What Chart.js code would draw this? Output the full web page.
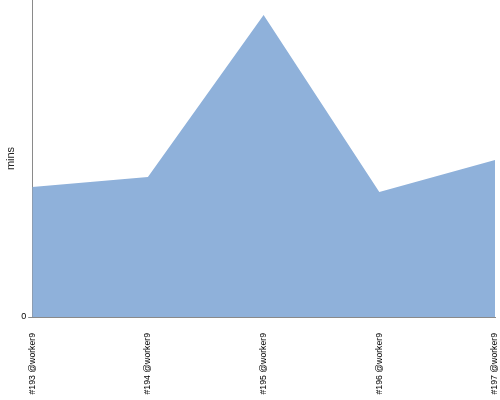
<!DOCTYPE html>
<html><head><meta charset="utf-8">
<script src="https://cdn.jsdelivr.net/npm/chart.js@4"></script>
<style>html,body{margin:0;padding:0;background:#fff}#w{width:500px;height:400px}</style>
</head><body><div id="w"><canvas id="c"></canvas></div>
<script>
const categories = ["#193 @worker9", "#194 @worker9", "#195 @worker9", "#196 @worker9", "#197 @worker9"];
const minutes = [41.0, 44.2, 95.3, 39.4, 49.5];
const yTickLabels = [0];
const yMax = 100;

new Chart(document.getElementById('c'), {
  type: 'line',
  data: { labels: categories, datasets: [{
    data: minutes, fill: 'origin', backgroundColor: '#8fb1da', borderColor: '#8fb1da',
    borderWidth: 0, pointRadius: 0, tension: 0 }] },
  options: {
    responsive: true, maintainAspectRatio: false, animation: false,
    layout: { padding: { top: 0, right: 5, bottom: 0, left: 2 } },
    plugins: { legend: { display: false }, tooltip: { enabled: false } },
    scales: {
      x: { offset: false,
        afterFit: (s) => { s.paddingLeft = 0; s.paddingRight = 0; s.height = 83; },
        grid: { display: false, drawTicks: false },
        border: { color: '#8a8a8a' },
        ticks: { maxRotation: 90, minRotation: 90, autoSkip: false, padding: 16,
          color: '#000', font: { family: 'Liberation Sans', size: 8.7 } } },
      y: { min: 0, max: yMax,
        afterBuildTicks: (s) => { s.ticks = yTickLabels.map(v => ({ value: v })); },
        afterFit: (s) => { s.paddingTop = 0; s.paddingBottom = 0; },
        grid: { drawOnChartArea: false, tickLength: 4, color: '#8a8a8a' },
        border: { color: '#8a8a8a' },
        ticks: { color: '#000', padding: 2, font: { family: 'Liberation Sans', size: 9 } },
        title: { display: true, text: 'mins', color: '#222', padding: 2,
          font: { family: 'Liberation Sans', size: 11 } } }
    }
  }
});
</script></body></html>
